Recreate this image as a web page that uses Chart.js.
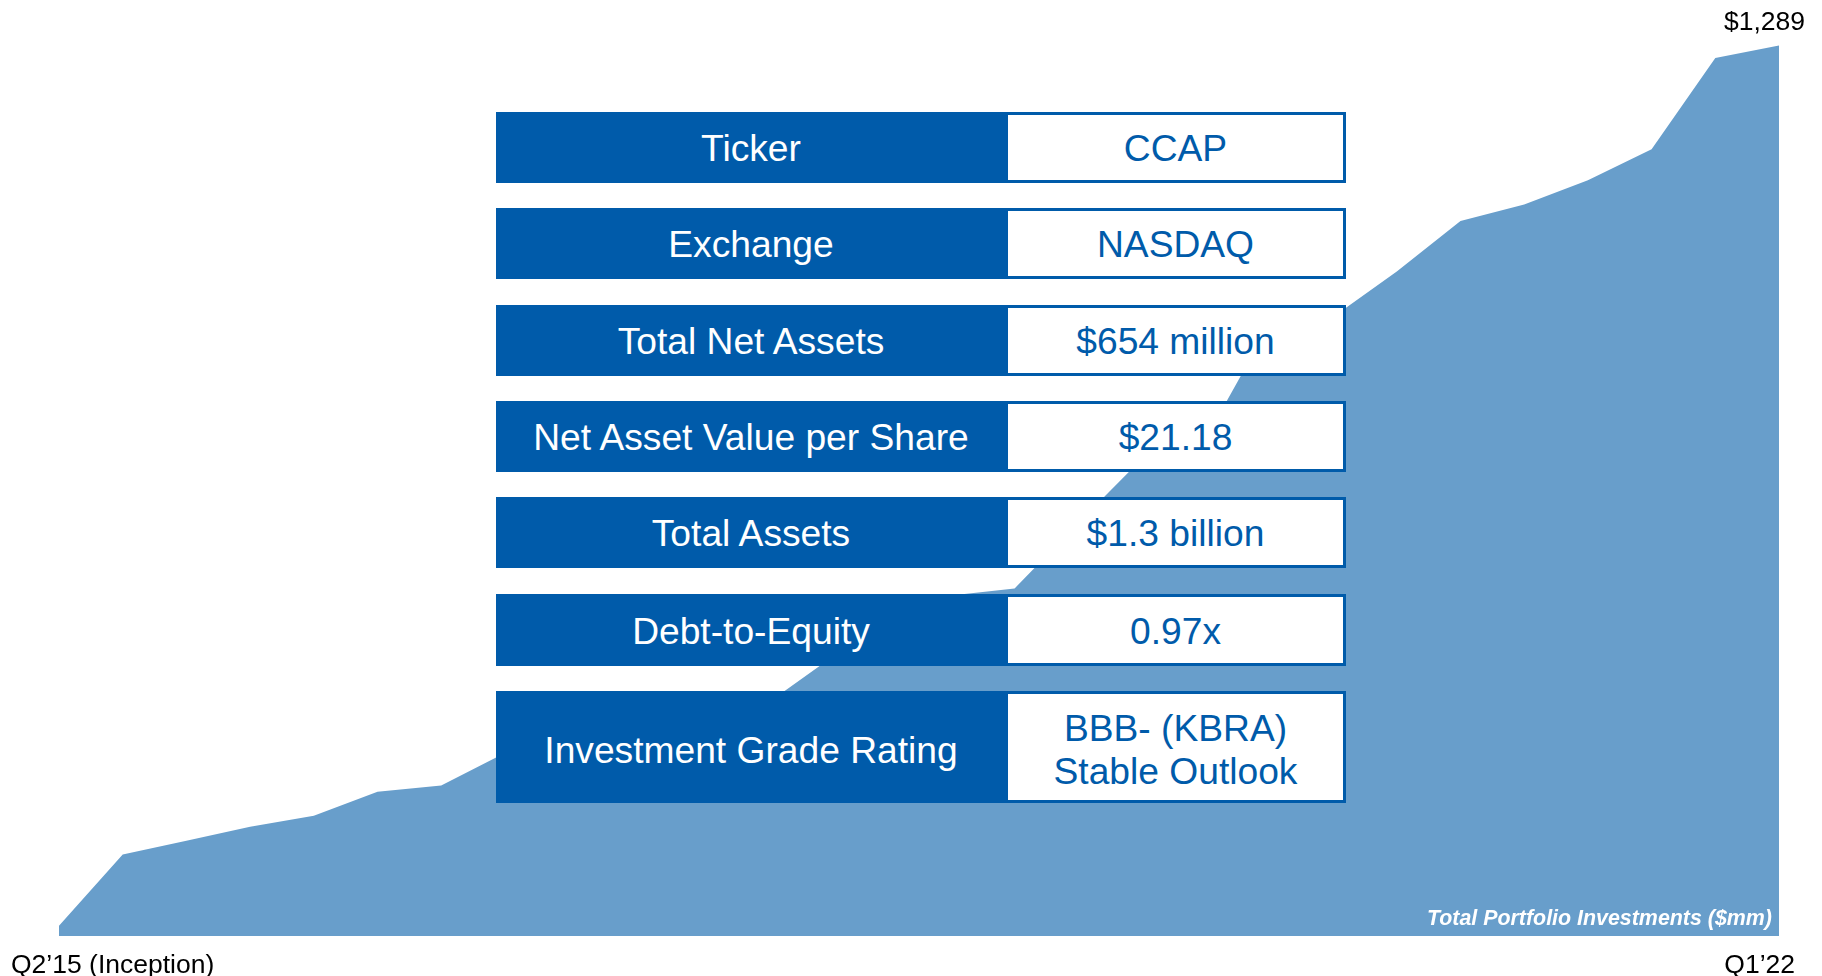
<!DOCTYPE html>
<html>
<head>
<meta charset="utf-8">
<script src="https://cdn.jsdelivr.net/npm/chart.js@4.4.1/dist/chart.umd.min.js"></script>
<style>
  html, body { margin: 0; padding: 0; background: #ffffff; }
  #wrap { position: relative; width: 1822px; height: 976px; overflow: hidden; font-family: "Liberation Sans", Arial, sans-serif; }
  #c { position: absolute; left: 0; top: 0; }
  .lbl { position: absolute; color: #000; font-size: 26.5px; line-height: 1; white-space: nowrap; }
  .note { position: absolute; color: #fff; font-size: 21.4px; font-weight: bold; font-style: italic; white-space: nowrap; line-height: 1; }
  .row { position: absolute; left: 496px; width: 850px; display: flex; }
  .cl { width: 510px; background: #005BAA; color: #fff; font-size: 37.2px; display: flex; align-items: center; justify-content: center; box-sizing: border-box; padding-top: 2px; }
  .cr { width: 340px; background: #fff; border: 3px solid #005BAA; border-left-width: 2px; box-sizing: border-box; color: #005BAA; font-size: 37.2px; display: flex; flex-direction: column; align-items: center; justify-content: center; text-align: center; line-height: 43px; padding-top: 2px; }
  .row.tall .cl, .row.tall .cr { padding-top: 6px; }
</style>
</head>
<body>
<div id="wrap">
  <canvas id="c" width="1822" height="976"></canvas>
  <div id="overlay"></div>
</div>
<script>
// ---- data ----
const quarters = ["Q2'15","Q3'15","Q4'15","Q1'16","Q2'16","Q3'16","Q4'16","Q1'17","Q2'17","Q3'17","Q4'17",
  "Q1'18","Q2'18","Q3'18","Q4'18","Q1'19","Q2'19","Q3'19","Q4'19","Q1'20","Q2'20","Q3'20","Q4'20",
  "Q1'21","Q2'21","Q3'21","Q4'21","Q1'22"];
const portfolioValues = [15, 118, 138, 158, 174, 209, 218, 265, 285, 300, 315, 329, 395, 445, 493, 503,
  598, 691, 720, 885, 896, 962, 1035, 1059, 1094, 1139, 1271, 1289];
const startLabel = "Q2\u201915 (Inception)";
const endLabel = "Q1\u201922";
const seriesTitle = "Total Portfolio Investments ($mm)";
const tableLabels = ["Ticker", "Exchange", "Total Net Assets", "Net Asset Value per Share", "Total Assets", "Debt-to-Equity", "Investment Grade Rating"];
const tableValues = [["CCAP"], ["NASDAQ"], ["$654 million"], ["$21.18"], ["$1.3 billion"], ["0.97x"], ["BBB- (KBRA)", "Stable Outlook"]];

// ---- label for last point ----
const lastValuePlugin = {
  id: 'lastValue',
  afterDatasetsDraw(chart) {
    const meta = chart.getDatasetMeta(0);
    const pt = meta.data[meta.data.length - 1];
    const v = portfolioValues[portfolioValues.length - 1];
    const ctx = chart.ctx;
    ctx.save();
    ctx.font = '26.5px "Liberation Sans", Arial, sans-serif';
    ctx.fillStyle = '#000';
    ctx.textAlign = 'right';
    ctx.textBaseline = 'middle';
    ctx.fillText('$' + v.toLocaleString('en-US'), pt.x + 26, pt.y - 23);
    ctx.restore();
  }
};

new Chart(document.getElementById('c'), {
  type: 'line',
  data: {
    labels: quarters,
    datasets: [{
      data: portfolioValues,
      fill: 'origin',
      backgroundColor: '#689ECB',
      borderColor: '#689ECB',
      borderWidth: 0,
      pointRadius: 0,
      tension: 0
    }]
  },
  options: {
    responsive: false,
    animation: false,
    layout: { padding: { left: 59, right: 43, top: 38, bottom: 40 } },
    plugins: { legend: { display: false }, tooltip: { enabled: false } },
    scales: {
      x: { display: false, offset: false },
      y: { display: false, min: 0, max: 1300 }
    }
  },
  plugins: [lastValuePlugin]
});

// ---- overlay texts & table ----
const ov = document.getElementById('overlay');
function addDiv(cls, text, style) {
  const d = document.createElement('div');
  d.className = cls;
  d.textContent = text;
  Object.assign(d.style, style);
  ov.appendChild(d);
  return d;
}
addDiv('lbl', startLabel, { left: '11px', top: '951px' });
addDiv('lbl', endLabel, { right: '27px', top: '951px' });
addDiv('note', seriesTitle, { right: '50px', top: '908px' });

const rowTops = [112, 208, 305, 401, 497, 594, 691];
const rowHeights = [71, 71, 71, 71, 71, 72, 112];
tableLabels.forEach((lab, i) => {
  const r = document.createElement('div');
  r.className = 'row' + (tableValues[i].length > 1 ? ' tall' : '');
  r.style.top = rowTops[i] + 'px';
  r.style.height = rowHeights[i] + 'px';
  const l = document.createElement('div');
  l.className = 'cl';
  l.textContent = lab;
  const rc = document.createElement('div');
  rc.className = 'cr';
  tableValues[i].forEach(t => {
    const s = document.createElement('div');
    s.textContent = t;
    rc.appendChild(s);
  });
  r.appendChild(l);
  r.appendChild(rc);
  ov.appendChild(r);
});
</script>
</body>
</html>
